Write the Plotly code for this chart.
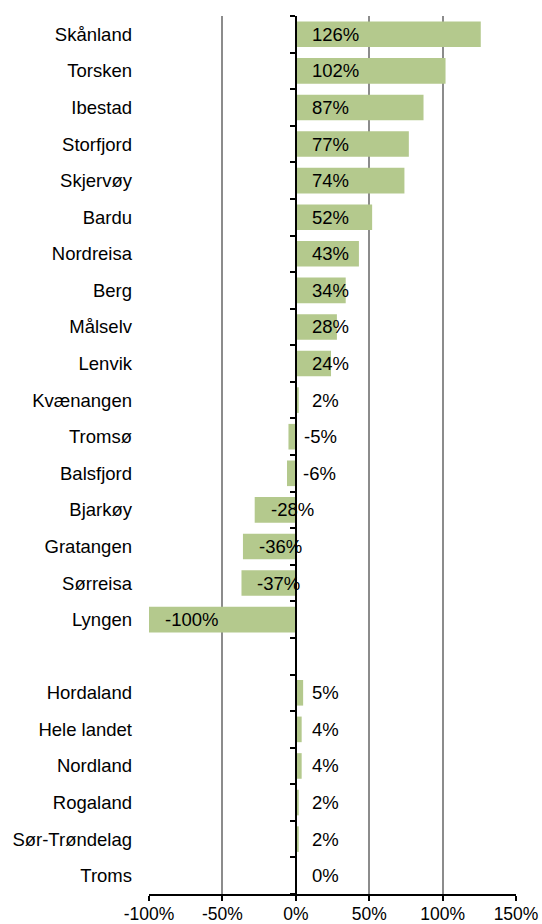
import plotly.graph_objects as go

kommuner = ["Skånland", "Torsken", "Ibestad", "Storfjord", "Skjervøy", "Bardu",
            "Nordreisa", "Berg", "Målselv", "Lenvik", "Kvænangen", "Tromsø",
            "Balsfjord", "Bjarkøy", "Gratangen", "Sørreisa", "Lyngen"]
kommune_vals = [126, 102, 87, 77, 74, 52, 43, 34, 28, 24, 2, -5, -6, -28, -36, -37, -100]

regioner = ["Hordaland", "Hele landet", "Nordland", "Rogaland", "Sør-Trøndelag", "Troms"]
region_vals = [5, 4, 4, 2, 2, 0]

x_ticks = [-100, -50, 0, 50, 100, 150]
x_ticktext = [f"{t}%" for t in x_ticks]

labels = kommuner + regioner
values = kommune_vals + region_vals
ypos = list(range(len(kommuner))) + [len(kommuner) + 1 + i for i in range(len(regioner))]
n_slots = len(kommuner) + 1 + len(regioner)

FONT = "Liberation Sans, Arial, sans-serif"
BAR = "#b4c98d"

fig = go.Figure()
fig.add_trace(go.Bar(
    x=values, y=ypos, orientation="h", width=0.7,
    marker=dict(color=BAR, line=dict(width=0)),
    hoverinfo="skip", showlegend=False,
))
fig.add_trace(go.Scatter(x=[None], y=[None], yaxis="y2", showlegend=False, hoverinfo="skip"))

for v, y in zip(values, ypos):
    fig.add_annotation(
        x=min(v, 0), y=y, text=f"{v}%", showarrow=False,
        xanchor="left", yanchor="middle", xshift=14,
        font=dict(family=FONT, size=18.5, color="#000000"),
    )

yrange = [n_slots - 0.5, -0.5]

fig.update_layout(
    width=542, height=924,
    margin=dict(l=149, r=26, t=16, b=30),
    paper_bgcolor="white", plot_bgcolor="white",
    font=dict(family=FONT, size=18.5, color="#000000"),
    bargap=0.3,
    xaxis=dict(
        range=[x_ticks[0], x_ticks[-1]], tickmode="array",
        tickvals=x_ticks, ticktext=x_ticktext,
        showgrid=True, gridcolor="#8c8c8c", gridwidth=1.5,
        zeroline=False, showline=True, linecolor="#000000", linewidth=1.5,
        ticks="outside", ticklen=5, tickcolor="#000000", tickwidth=1.5,
        ticklabelstandoff=-2,
        tickfont=dict(family=FONT, size=17.5, color="#000000"),
        automargin=False, fixedrange=True,
    ),
    yaxis=dict(
        range=yrange, tickmode="array", tickvals=ypos, ticktext=labels,
        showgrid=False, zeroline=False, showline=False, ticks="",
        ticklabelstandoff=16,
        tickfont=dict(family=FONT, size=18.5, color="#000000"),
        automargin=False, fixedrange=True,
    ),
    yaxis2=dict(
        overlaying="y", anchor="free",
        position=(0 - x_ticks[0]) / (x_ticks[-1] - x_ticks[0]),
        side="left", range=yrange,
        tickmode="array",
        tickvals=[i - 0.5 for i in range(n_slots + 1)],
        showticklabels=False, showgrid=False, zeroline=False,
        showline=True, linecolor="#000000", linewidth=1.5,
        ticks="outside", ticklen=5, tickcolor="#000000", tickwidth=1.5,
        automargin=False, fixedrange=True,
    ),
)

fig.write_html(
    "out.html",
    config={"displayModeBar": False},
    post_script="document.body.style.margin='0';document.body.style.overflow='hidden';",
)
